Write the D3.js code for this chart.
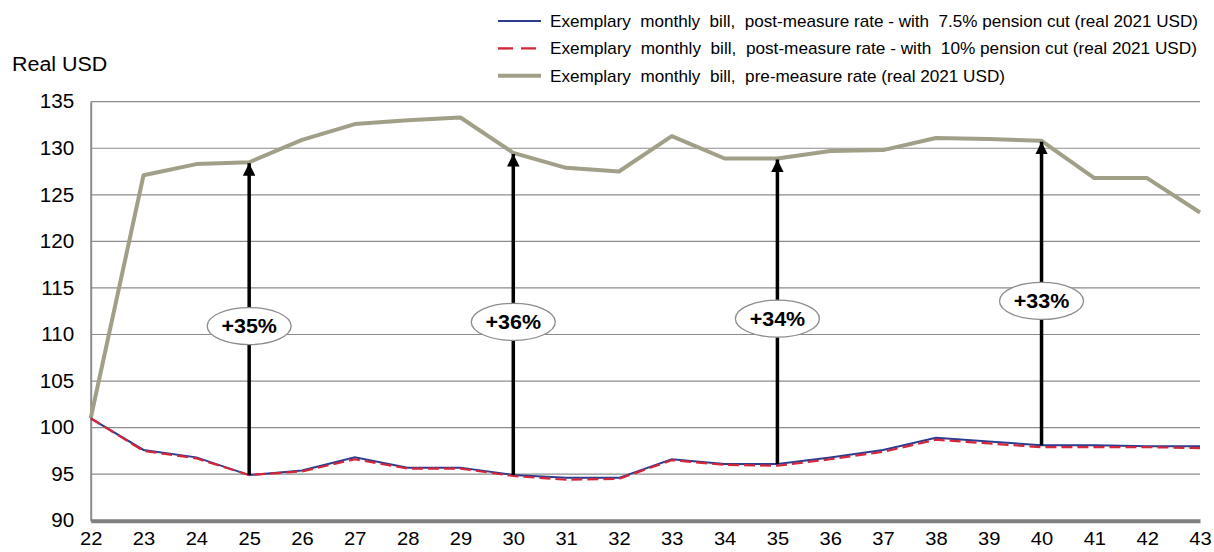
<!DOCTYPE html>
<html>
<head>
<meta charset="utf-8">
<script src="https://cdn.jsdelivr.net/npm/d3@7"></script>
<style>
  html, body { margin: 0; padding: 0; background: #fff; }
  svg { display: block; font-family: "Liberation Sans", Arial, sans-serif; }
</style>
</head>
<body>
<svg id="chart" width="1214" height="552"></svg>
<script>
// Age / year index along the x axis
const periods = [22,23,24,25,26,27,28,29,30,31,32,33,34,35,36,37,38,39,40,41,42,43];

// Monthly bill, real 2021 USD
const preMeasure = [101.0,127.1,128.3,128.5,130.9,132.6,133.0,133.3,129.5,127.9,127.5,131.3,128.9,128.9,129.7,129.8,131.1,131.0,130.8,126.8,126.8,123.1];
const postCut75  = [101.0,97.6,96.8,94.9,95.4,96.8,95.7,95.7,94.9,94.6,94.6,96.6,96.1,96.1,96.8,97.6,98.9,98.5,98.1,98.1,98.0,98.0];
const postCut10  = [101.0,97.5,96.7,94.9,95.3,96.6,95.6,95.6,94.8,94.4,94.5,96.5,96.0,95.9,96.6,97.4,98.7,98.3,97.9,97.9,97.9,97.8];

// Gap annotations: x position, label and the height the label sits at
const gapPeriods = [25, 30, 35, 40];
const gapLabels  = ["+35%", "+36%", "+34%", "+33%"];
const gapLabelValues = [110.9, 111.35, 111.7, 113.6];

const yTicks = [90,95,100,105,110,115,120,125,130,135];

const legendLabels = [
  "Exemplary  monthly  bill,  post-measure rate - with  7.5% pension cut (real 2021 USD)",
  "Exemplary  monthly  bill,  post-measure rate - with  10% pension cut (real 2021 USD)",
  "Exemplary  monthly  bill,  pre-measure rate (real 2021 USD)"
];

const svg = d3.select("#chart");
const margin = { left: 90.7, right: 14, top: 101.7, bottom: 31.3 };
const W = 1214, H = 552;

const x = d3.scaleLinear().domain([22, 43]).range([margin.left, W - margin.right]);
const y = d3.scaleLinear().domain([90, 135]).range([H - margin.bottom, margin.top]);

const colPre = "#a19f88", colBlue = "#2c3d8f", colRed = "#d3263a";
const FONT = "Liberation Sans, Arial, sans-serif";

// Slightly wide lettering: stretch each text horizontally by a fixed factor
function widen(sel, factor) {
  sel.each(function () {
    const len = this.getComputedTextLength();
    d3.select(this).attr("textLength", len * factor).attr("lengthAdjust", "spacingAndGlyphs");
  });
}

// Horizontal gridlines
svg.append("g")
  .selectAll("line")
  .data(yTicks.filter(d => d > 90))
  .join("line")
  .attr("x1", x(22)).attr("x2", x(43))
  .attr("y1", d => y(d)).attr("y2", d => y(d))
  .attr("stroke", "#8c8c8c").attr("stroke-width", 1.2);

// Y axis
const yAxis = svg.append("g")
  .attr("transform", `translate(${x(22)},0)`)
  .call(d3.axisLeft(y).tickValues(yTicks).tickSize(0).tickPadding(16.5));
yAxis.select(".domain").attr("stroke", "#8c8c8c").attr("stroke-width", 2);
yAxis.selectAll("text").attr("font-size", 19.5).attr("fill", "#000").attr("font-family", FONT)
  .call(widen, 1.06);

// X axis
const xAxis = svg.append("g")
  .attr("transform", `translate(0,${y(90)})`)
  .call(d3.axisBottom(x).tickValues(periods).tickFormat(d3.format("d")).tickSize(0).tickPadding(11));
xAxis.select(".domain").attr("stroke", "#808080").attr("stroke-width", 4);
xAxis.selectAll("text").attr("font-size", 19).attr("fill", "#000").attr("font-family", FONT)
  .call(widen, 1.06);

// Axis title
svg.append("text").attr("x", 12).attr("y", 70.7)
  .attr("font-size", 19.5).attr("fill", "#000").text("Real USD")
  .call(widen, 1.1);

// Series lines
const line = d3.line().x((d, i) => x(periods[i])).y(d => y(d));
svg.append("path").datum(preMeasure).attr("d", line)
  .attr("fill", "none").attr("stroke", colPre).attr("stroke-width", 4).attr("stroke-linejoin", "round");
svg.append("path").datum(postCut75).attr("d", line)
  .attr("fill", "none").attr("stroke", colBlue).attr("stroke-width", 2);
svg.append("path").datum(postCut10).attr("d", line)
  .attr("fill", "none").attr("stroke", colRed).attr("stroke-width", 2.2).attr("stroke-dasharray", "11,5");

// Arrows from post-measure to pre-measure bill
svg.append("defs").append("marker")
  .attr("id", "head").attr("viewBox", "0 0 10 10")
  .attr("refX", 10).attr("refY", 5)
  .attr("markerWidth", 3.6).attr("markerHeight", 3.6)
  .attr("markerUnits", "strokeWidth").attr("orient", "auto")
  .append("path").attr("d", "M0,0L10,5L0,10z").attr("fill", "#000");

gapPeriods.forEach((p, k) => {
  const i = periods.indexOf(p);
  svg.append("line")
    .attr("x1", x(p)).attr("x2", x(p))
    .attr("y1", y(postCut75[i])).attr("y2", y(preMeasure[i]) + 1)
    .attr("stroke", "#000").attr("stroke-width", 3.5)
    .attr("marker-end", "url(#head)");
  const cy = y(gapLabelValues[k]);
  svg.append("ellipse").attr("cx", x(p)).attr("cy", cy)
    .attr("rx", 42).attr("ry", 18.5)
    .attr("fill", "#fff").attr("stroke", "#8c8c8c").attr("stroke-width", 1.3);
  svg.append("text").attr("x", x(p)).attr("y", cy + 7)
    .attr("text-anchor", "middle").attr("font-size", 19.5).attr("font-weight", "bold")
    .attr("fill", "#000").text(gapLabels[k])
    .call(widen, 1.1);
});

// Legend
const legendRows = [
  { color: colBlue, width: 2.2, dash: null, end: 1198 },
  { color: colRed, width: 2.4, dash: "15,8", end: 1197 },
  { color: colPre, width: 4, dash: null, end: 1005 }
];
const lg = svg.append("g");
legendRows.forEach((r, i) => {
  const yy = 21 + i * 27.4;
  lg.append("line").attr("x1", 498).attr("x2", 541).attr("y1", yy).attr("y2", yy)
    .attr("stroke", r.color).attr("stroke-width", r.width)
    .attr("stroke-dasharray", r.dash);
  lg.append("text").attr("x", 550).attr("y", yy + 6)
    .attr("font-size", 17).attr("fill", "#000")
    .attr("textLength", r.end - 550).attr("lengthAdjust", "spacingAndGlyphs")
    .style("white-space", "pre")
    .text(legendLabels[i]);
});
</script>
</body>
</html>
